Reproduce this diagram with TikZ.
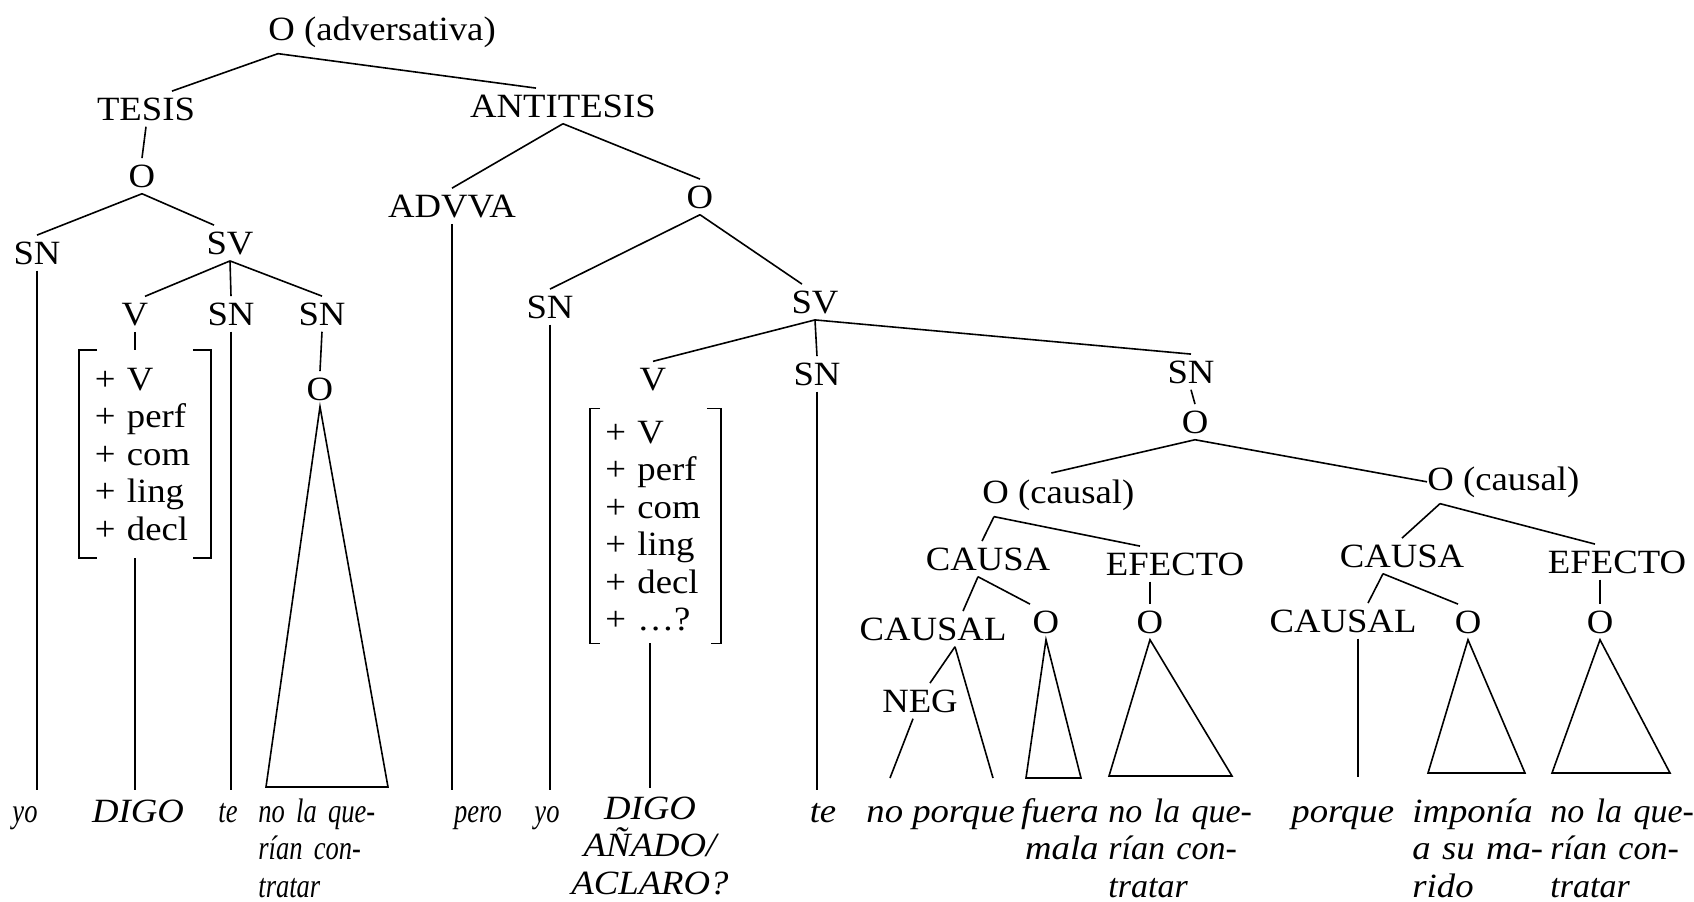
\documentclass[tikz,border=0pt]{standalone}
\usepackage{fontspec}
\setmainfont[FakeStretch=1.08]{Liberation Serif}
\newfontfamily\narrowit[FakeStretch=0.78]{Liberation Serif}
\newfontfamily\plainit{Liberation Serif}
\begin{document}
\begin{tikzpicture}[x=0.5pt,y=-0.5pt,
  cat/.style={font=\fontsize{17}{18.75}\selectfont, inner xsep=0pt, inner ysep=3pt, anchor=base},
  word/.style={font=\fontsize{17}{18.75}\selectfont\itshape, inner sep=0pt, anchor=base},
  narrow/.style={font=\fontsize{17}{18.75}\selectfont\narrowit\itshape, inner sep=0pt, anchor=base},
  plain/.style={font=\fontsize{17}{18.75}\selectfont\plainit\itshape, inner sep=0pt, anchor=base west},
  feat/.style={font=\fontsize{17}{18.75}\selectfont, align=left, anchor=base west},
  branch/.style={line width=0.8pt}]
\useasboundingbox (0,0) rectangle (1694,901);
\coordinate (floorA) at (0,790);
\coordinate (floorB) at (0,777);
\coordinate (porqueEnd) at (993,778);
\coordinate (noEnd) at (890,778);
\node [cat, anchor=base west] (root) at (268,40) {O (adversativa)};
\node [cat] (tesis) at (146,120) {TESIS};
\node [cat] (oT) at (142,187) {O};
\node [cat] (snA) at (37,264) {SN};
\node [cat] (svA) at (230,254) {SV};
\node [cat] (vA) at (135,325) {V};
\node [cat] (snB) at (231,325) {SN};
\node [cat] (snC) at (322,325) {SN};
\node [cat] (oC) at (320,400) {O};
\node [feat, text width=50pt, inner xsep=7.75pt, inner ysep=8.75pt] (featA) at (79,390) {+ V\\+ perf\\+ com\\+ ling\\+ decl};
\node [cat] (anti) at (563,117) {ANTITESIS};
\node [cat] (advva) at (452,217) {ADVVA};
\node [cat] (oB) at (700,208) {O};
\node [cat] (snD) at (550,318) {SN};
\node [cat] (svB) at (815,313) {SV};
\node [cat] (vB) at (653,390) {V};
\node [cat] (snE) at (817,385) {SN};
\node [feat, text width=50pt, inner xsep=7.5pt, inner ysep=6pt] (featB) at (590,443) {+ V\\+ perf\\+ com\\+ ling\\+ decl\\+ \dots?};
\node [cat] (snF) at (1191,383) {SN};
\node [cat] (oF) at (1195,433) {O};
\node [cat, anchor=base west] (causL) at (982,503) {O (causal)};
\node [cat, anchor=base west] (causR) at (1427,490) {O (causal)};
\node [cat] (causaL) at (988,570) {CAUSA};
\node [cat] (efL) at (1175,575) {EFECTO};
\node [cat] (causalL) at (933,640) {CAUSAL};
\node [cat] (oG) at (1046,633) {O};
\node [cat] (oH) at (1150,633) {O};
\node [cat] (neg) at (920,712) {NEG};
\node [cat] (causaR) at (1402,567) {CAUSA};
\node [cat] (efR) at (1617,573) {EFECTO};
\node [cat] (causalR) at (1343,632) {CAUSAL};
\node [cat] (oI) at (1468,633) {O};
\node [cat] (oJ) at (1600,633) {O};
\node [narrow] (wYoA) at (25,822) {yo};
\node [word] (wDigoA) at (138,822) {DIGO};
\node [narrow] (wTeA) at (228,822) {te};
\node [narrow, anchor=base west, text width=60pt, align=left] (wQueA) at (258,822) {no la que-\\rían con-\\tratar};
\node [narrow] (wPero) at (478,822) {pero};
\node [narrow] (wYoB) at (547,822) {yo};
\node [word, text width=90pt, align=center] (wDigoB) at (650,819) {DIGO\\AÑADO/\\ACLARO?};
\node [word] (wTeB) at (823,822) {te};
\node [word, anchor=base west] (wNoPorque) at (866,822) {no porque};
\node [word, anchor=base east, text width=45pt, align=right] (wFuera) at (1099,822) {fuera\\mala};
\node [plain, text width=80pt, align=left] (wQueB) at (1108,822) {no la que-\\rían con-\\tratar};
\node [word, anchor=base west] (wPorque) at (1291,822) {porque};
\node [word, anchor=base west, text width=70pt, align=left] (wImponia) at (1412,822) {imponía\\a su ma-\\rido};
\node [plain, text width=75pt, align=left] (wQueC) at (1550,822) {no la que-\\rían con-\\tratar};
\draw [branch] ([xshift=5pt]root.south west) -- ([xshift=13pt]tesis.north);
\draw [branch] ([xshift=5pt]root.south west) -- ([xshift=-13.5pt]anti.north);
\draw [branch] (tesis.south) -- (oT.north);
\draw [branch] (oT.south) -- (snA.north);
\draw [branch] (oT.south) -- ([xshift=-8pt]svA.north);
\draw [branch] (svA.south) -- ([xshift=5pt]vA.north);
\draw [branch] (svA.south) -- (snB.north);
\draw [branch] (svA.south) -- (snC.north);
\draw [branch] (vA.south) -- (vA.south |- featA.north);
\draw [branch] ([xshift=9pt]featA.north west) -- (featA.north west) -- (featA.south west) -- ([xshift=9pt]featA.south west);
\draw [branch] ([xshift=-9pt]featA.north east) -- (featA.north east) -- (featA.south east) -- ([xshift=-9pt]featA.south east);
\draw [branch] (featA.south -| vA.south) -- (vA.south |- floorA);
\draw [branch] (snA.south) -- (snA.south |- floorA);
\draw [branch] (snB.south) -- (snB.south |- floorA);
\draw [branch] (snC.south) -- (oC.north);
\draw [branch] (oC.south) -- (266,787) -- (388,787) -- cycle;
\draw [branch] (anti.south) -- (advva.north);
\draw [branch] (anti.south) -- (oB.north);
\draw [branch] (advva.south) -- (advva.south |- floorA);
\draw [branch] (oB.south) -- (snD.north);
\draw [branch] (oB.south) -- ([xshift=-6.5pt]svB.north);
\draw [branch] (snD.south) -- (snD.south |- floorA);
\draw [branch] (svB.south) -- (vB.north);
\draw [branch] (svB.south) -- (snE.north);
\draw [branch] (svB.south) -- (snF.north);
\draw [branch] (snE.south) -- (snE.south |- floorA);
\draw [branch] ([xshift=5pt]featB.north west) -- (featB.north west) -- (featB.south west) -- ([xshift=5pt]featB.south west);
\draw [branch] ([xshift=-7pt]featB.north east) -- (featB.north east) -- (featB.south east) -- ([xshift=-5pt]featB.south east);
\draw [branch] (featB.south -| wDigoB.north) -- ([yshift=4pt]wDigoB.north);
\draw [branch] (snF.south) -- (oF.north);
\draw [branch] (oF.south) -- ([xshift=-3.5pt]causL.north);
\draw [branch] (oF.south) -- (causR.west);
\draw [branch] ([xshift=6pt]causL.south west) -- ([xshift=-3pt]causaL.north);
\draw [branch] ([xshift=6pt]causL.south west) -- ([xshift=-17.5pt]efL.north);
\draw [branch] ([xshift=-5pt]causaL.south) -- ([xshift=15pt]causalL.north);
\draw [branch] ([xshift=-5pt]causaL.south) -- ([xshift=-8pt]oG.north);
\draw [branch] (oH.north |- efL.south) -- (oH.north);
\draw [branch] ([xshift=11pt]causalL.south) -- ([xshift=5pt]neg.north);
\draw [branch] ([xshift=11pt]causalL.south) -- (porqueEnd);
\draw [branch] ([xshift=-3.5pt]neg.south) -- (noEnd);
\draw [branch] (oG.south) -- (1026,778) -- (1081,778) -- cycle;
\draw [branch] (oH.south) -- (1109,776) -- (1232,776) -- cycle;
\draw [branch] ([xshift=6.5pt]causR.south west) -- (causaR.north);
\draw [branch] ([xshift=6.5pt]causR.south west) -- ([xshift=-11pt]efR.north);
\draw [branch] ([xshift=-9.5pt]causaR.south) -- ([xshift=12.5pt]causalR.north);
\draw [branch] ([xshift=-9.5pt]causaR.south) -- ([xshift=-5pt]oI.north);
\draw [branch] (oJ.north |- efR.south) -- (oJ.north);
\draw [branch] ([xshift=7.5pt]causalR.south) -- ([xshift=7.5pt]causalR.south |- floorB);
\draw [branch] (oI.south) -- (1428,773) -- (1525,773) -- cycle;
\draw [branch] (oJ.south) -- (1552,773) -- (1670,773) -- cycle;
\end{tikzpicture}
\end{document}
